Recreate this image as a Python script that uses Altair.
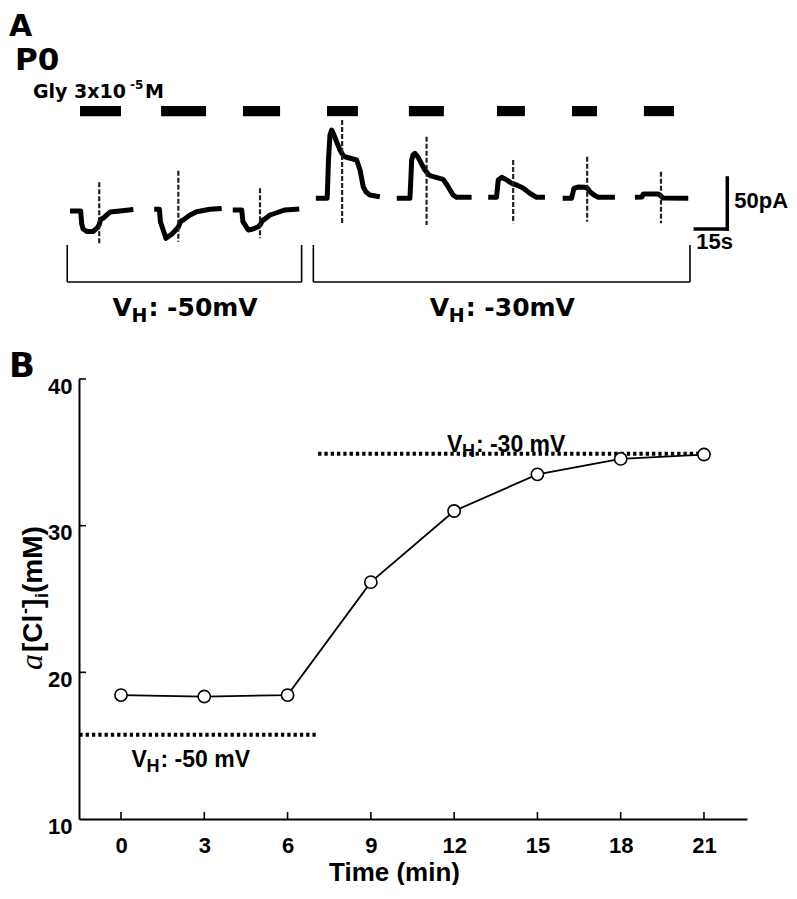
import altair as alt
import pandas as pd

# ---------------- Panel B: intracellular Cl- activity vs time ----------------
time_min = [0, 3, 6, 9, 12, 15, 18, 21]
cl_mM = [18.45, 18.35, 18.45, 26.15, 31.0, 33.5, 34.55, 34.85]
x_ticks = [0, 3, 6, 9, 12, 15, 18, 21]
y_ticks = [10, 20, 30, 40]
ref_levels = [15.75, 34.9]          # predicted levels at VH -50 / -30 mV
ref_start = [-1.5, 7.1]
ref_end = [7.05, 21.0]

# ---------------- Panel A: glycine-induced currents ----------------
gly_on = [4.7, 42.7, 81.1, 120.5, 158.9, 200.2, 235.4, 269.1]       # s
gly_off = [23.9, 63.8, 98.5, 135.0, 175.3, 213.3, 247.1, 283.2]     # s

T1_t = [0, 5.0, 5.5, 6.1, 8.0, 10.8, 12.7, 13.6, 14.5, 15.6, 17.8, 18.8, 23.4, 29.7]
T1_i = [0, 0, -12.7, -17.6, -20.1, -20.1, -16.7, -13.7, -7.8, -6.9, -2.9, -1.0, 0, 1.5]
T2_t = [39.5, 41.9, 42.4, 45.0, 47.8, 50.0, 50.8, 52.0, 53.1, 56.3, 59.4, 65.6, 71.1]
T2_i = [1.7, 1.7, -10.5, -26.8, -22.5, -17.6, -15.7, -9.8, -8.8, -3.9, -0.7, 1.7, 2.5]
T3_t = [76.3, 80.5, 81.1, 83.6, 85.8, 88.3, 89.1, 90.5, 91.4, 93.8, 96.9, 100.8, 107.5]
T3_i = [1.0, 1.0, -10.5, -18.6, -17.6, -15.4, -13.7, -8.8, -7.8, -3.9, -1.7, 1.0, 2.0]
T4_t = [115.3, 120.6, 121.2, 121.9, 122.7, 123.8, 124.7, 126.6, 127.4, 128.0, 128.9,
        134.4, 136.0, 137.5, 138.8, 140.6, 145.3]
T4_i = [12.5, 12.5, 50.0, 74.5, 79.4, 74.5, 69.6, 59.8, 56.9, 54.9, 53.2,
        50.0, 40.2, 23.8, 18.6, 15.7, 14.0]
T5_t = [153.2, 159.4, 159.9, 160.2, 160.8, 161.7, 163.2, 164.6, 166.4, 167.2, 168.3,
        169.6, 175.0, 176.8, 178.2, 179.6, 181.3, 188.3]
T5_i = [12.5, 12.5, 35.3, 50.0, 54.9, 56.6, 52.9, 47.1, 40.2, 38.2, 35.3,
        34.3, 31.1, 25.5, 20.6, 15.7, 13.4, 13.4]
T6_t = [196.1, 200.0, 200.8, 202.4, 204.4, 207.1, 207.8, 209.4, 212.4, 215.6, 218.8, 222.7]
T6_i = [13.4, 13.4, 30.4, 33.0, 30.9, 27.2, 26.5, 25.5, 22.5, 17.4, 13.4, 13.4]
T7_t = [231.0, 235.2, 236.3, 238.2, 241.4, 242.5, 243.8, 245.7, 247.7, 255.5]
T7_i = [12.5, 12.5, 22.3, 23.5, 23.2, 22.5, 18.9, 15.7, 13.4, 13.4]
T8_t = [264.9, 268.2, 268.8, 275.8, 277.1, 278.0, 289.9]
T8_i = [13.4, 13.7, 16.7, 16.7, 14.7, 12.7, 12.5]
sweep_t = [T1_t, T2_t, T3_t, T4_t, T5_t, T6_t, T7_t, T8_t]
sweep_i = [T1_i, T2_i, T3_i, T4_i, T5_i, T6_i, T7_i, T8_i]

artifact_t = [13.7, 50.8, 89.1, 127.6, 167.2, 207.8, 242.5, 277.1]
artifact_top = [28.1, 39.5, 22.3, 89.2, 72.8, 50.0, 53.2, 38.5]
artifact_bot = [-31.7, -30.1, -26.8, -12.1, -13.7, -12.1, -10.5, -12.1]

bracket_start = [-1.3, 114.1]
bracket_end = [108.6, 290.7]
bracket_top = -33.3
bracket_bottom = -69.6
bracket_label = [": -50mV", ": -30mV"]
label_level = -95.1

scale_t = 308.2        # scale bar corner (s)
scale_i = -17.6        # scale bar corner (pA)
scale_pa = 50
scale_s = 15

# ---------------- fonts ----------------
SANS = "Liberation Sans, Arial, Helvetica, sans-serif"
WIDE = "DejaVu Sans, Verdana, sans-serif"
SERIF = "Liberation Serif, Times New Roman, serif"

# ---------------- tables ----------------
trace_rows = []
for k, (ts, vs) in enumerate(zip(sweep_t, sweep_i)):
    for j, (t, v) in enumerate(zip(ts, vs)):
        trace_rows.append({"sweep": k, "order": j, "t": t, "i": v})
traces = pd.DataFrame(trace_rows)
artifacts = pd.DataFrame({"t": artifact_t, "top": artifact_top, "bot": artifact_bot})
bars = pd.DataFrame({"on": gly_on, "off": gly_off})

segs = []
for s, e in zip(bracket_start, bracket_end):
    segs.append({"x": s, "x2": e, "y": bracket_bottom, "y2": bracket_bottom, "w": "thin"})
    segs.append({"x": s, "x2": s, "y": bracket_top, "y2": bracket_bottom, "w": "thin"})
    segs.append({"x": e, "x2": e, "y": bracket_top, "y2": bracket_bottom, "w": "thin"})
segs.append({"x": scale_t, "x2": scale_t, "y": scale_i, "y2": scale_i + scale_pa, "w": "thick"})
segs.append({"x": scale_t - scale_s, "x2": scale_t, "y": scale_i, "y2": scale_i, "w": "thick"})
segments = pd.DataFrame(segs)

blabels = pd.DataFrame({
    "t": [(s + e) / 2 for s, e in zip(bracket_start, bracket_end)],
    "i": [label_level] * 2,
    "rest": bracket_label,
})
sblabels = pd.DataFrame({
    "t": [scale_t, scale_t - scale_s],
    "i": [scale_i + scale_pa / 2, scale_i],
    "txt": [f"{scale_pa}pA", f"{scale_s}s"],
})

XA = alt.Scale(domain=[4.22, 317.44], nice=False, zero=False)
YA = alt.Scale(domain=[-596.1, -164.7], nice=False, zero=False)

tr = alt.Chart(traces).mark_line(color="black", strokeWidth=5, strokeJoin="round").encode(
    x=alt.X("t:Q", scale=XA, axis=None),
    y=alt.Y("i:Q", scale=YA, axis=None),
    detail="sweep:N",
    order="order:Q",
)
art = alt.Chart(artifacts).mark_rule(color="#222", strokeWidth=2.2, strokeDash=[5, 2]).encode(
    x=alt.X("t:Q", scale=XA, axis=None),
    y=alt.Y("top:Q", scale=YA, axis=None),
    y2="bot:Q",
)
gly = alt.Chart(bars).mark_rect(color="black").encode(
    x=alt.X("on:Q", scale=XA, axis=None),
    x2="off:Q",
    y=alt.Y(datum=103, scale=YA, axis=None),
    y2=alt.Y2(datum=93),
)
seg_thin = alt.Chart(segments).transform_filter(alt.datum.w == "thin").mark_rule(
    color="black", strokeWidth=1.6).encode(
    x=alt.X("x:Q", scale=XA, axis=None), x2="x2:Q",
    y=alt.Y("y:Q", scale=YA, axis=None), y2="y2:Q",
)
seg_thick = alt.Chart(segments).transform_filter(alt.datum.w == "thick").mark_rule(
    color="black", strokeWidth=3.5, strokeCap="square").encode(
    x=alt.X("x:Q", scale=XA, axis=None), x2="x2:Q",
    y=alt.Y("y:Q", scale=YA, axis=None), y2="y2:Q",
)
base_bl = alt.Chart(blabels).encode(
    x=alt.X("t:Q", scale=XA, axis=None), y=alt.Y("i:Q", scale=YA, axis=None))
bl_v = base_bl.mark_text(text="V", font=WIDE, fontSize=25, fontWeight="bold",
                         align="left", dx=-72)
bl_h = base_bl.mark_text(text="H", font=WIDE, fontSize=19, fontWeight="bold",
                         align="left", dx=-53, dy=8)
bl_r = base_bl.mark_text(font=WIDE, fontSize=25, fontWeight="bold",
                         align="left", dx=-36).encode(text="rest:N")
sl = alt.Chart(sblabels).transform_filter(alt.datum.txt == f"{scale_pa}pA").mark_text(
    font=SANS, fontSize=22, fontWeight="bold", align="left", baseline="middle", dx=7, dy=-2).encode(
    x=alt.X("t:Q", scale=XA, axis=None), y=alt.Y("i:Q", scale=YA, axis=None), text="txt:N")
sl2 = alt.Chart(sblabels).transform_filter(alt.datum.txt == f"{scale_s}s").mark_text(
    font=SANS, fontSize=22, fontWeight="bold", align="left", baseline="top", dx=1, dy=3).encode(
    x=alt.X("t:Q", scale=XA, axis=None), y=alt.Y("i:Q", scale=YA, axis=None), text="txt:N")

panelA = alt.layer(gly, tr, art, seg_thin, seg_thick, bl_v, bl_h, bl_r, sl, sl2)

# ---------------- Panel B layers ----------------
dfB = pd.DataFrame({"time": time_min, "cl": cl_mM})
refs = pd.DataFrame({"x": ref_start, "x2": ref_end, "y": ref_levels})
xt = pd.DataFrame({"v": x_ticks})
yt = pd.DataFrame({"v": y_ticks[1:]})

XB = alt.Scale(domain=[-1.513, 22.55], nice=False, zero=False)
YB = alt.Scale(domain=[10, 40], nice=False, zero=False)

axX = alt.Axis(values=x_ticks, ticks=False, grid=False, domainColor="black", domainWidth=2,
               labelFont=SANS, labelFontSize=22, labelFontWeight="bold", labelColor="black",
               labelPadding=16, title="Time (min)", titleFont=SANS, titleFontSize=26,
               titleFontWeight="bold", titleColor="black", titleX=315, titleY=61,
               titleBaseline="alphabetic", titleAlign="center")
axY = alt.Axis(values=y_ticks, ticks=False, grid=False, domainColor="black", domainWidth=2,
               labelFont=SANS, labelFontSize=22, labelFontWeight="bold", labelColor="black",
               labelPadding=7, labelBaseline="top", labelOffset=-3, title=None)

lineB = alt.Chart(dfB).mark_line(color="black", strokeWidth=1.8).encode(
    x=alt.X("time:Q", scale=XB, axis=axX),
    y=alt.Y("cl:Q", scale=YB, axis=axY),
)
ptsB = alt.Chart(dfB).mark_point(shape="circle", size=150, filled=True, fill="white",
                                 stroke="black", strokeWidth=1.6, opacity=1).encode(
    x=alt.X("time:Q", scale=XB), y=alt.Y("cl:Q", scale=YB))
refB = alt.Chart(refs).mark_rule(color="black", strokeWidth=4, strokeDash=[3.3, 3]).encode(
    x=alt.X("x:Q", scale=XB), x2="x2:Q", y=alt.Y("y:Q", scale=YB))
xtick = alt.Chart(xt).mark_rule(color="black", strokeWidth=1.6).encode(
    x=alt.X("v:Q", scale=XB), y=alt.Y(datum=10, scale=YB), y2=alt.Y2(datum=10.48))
ytick = alt.Chart(yt).mark_rule(color="black", strokeWidth=1.6).encode(
    y=alt.Y("v:Q", scale=YB), x=alt.X(datum=-1.513, scale=XB), x2=alt.X2(datum=-1.26))

vh_lab = pd.DataFrame({"time": [0.38, 11.74], "cl": [14.02, 35.5], "rest": [": -50 mV", ": -30 mV"]})
base_vh = alt.Chart(vh_lab).encode(x=alt.X("time:Q", scale=XB), y=alt.Y("cl:Q", scale=YB))
vh_v = base_vh.mark_text(text="V", font=SANS, fontSize=23, fontWeight="bold", align="left")
vh_h = base_vh.mark_text(text="H", font=SANS, fontSize=18, fontWeight="bold", align="left", dx=15, dy=7)
vh_r = base_vh.mark_text(font=SANS, fontSize=23, fontWeight="bold", align="left", dx=29).encode(text="rest:N")

# rotated y-axis title  a[Cl-]i (mM)
ytitle_parts = [("a", SERIF, 32, "normal", "italic", 0, 0),
                ("[Cl", SANS, 28, "bold", "normal", 18, 0),
                ("-", SANS, 18, "bold", "normal", 56, -11),
                ("]", SANS, 28, "bold", "normal", 62, 0),
                ("i", SANS, 18, "bold", "normal", 72, 6),
                (" (mM)", SANS, 28, "bold", "normal", 77, 0)]
yt_layers = []
for txt, fnt, fs, fw, fst, dx, dy in ytitle_parts:
    yt_layers.append(alt.Chart(pd.DataFrame({"a": [0]})).mark_text(
        text=txt, font=fnt, fontSize=fs, fontWeight=fw, fontStyle=fst, angle=270,
        align="left", baseline="alphabetic", dx=dx, dy=dy, color="black").encode(
        x=alt.value(-37), y=alt.value(291)))

# panel letters and headings (layout annotations)
def label(txt, x, y, fs, font=WIDE):
    return alt.Chart(pd.DataFrame({"a": [0]})).mark_text(
        text=txt, font=font, fontSize=fs, fontWeight="bold", align="left",
        baseline="alphabetic", color="black").encode(x=alt.value(x), y=alt.value(y))

heads = [label("A", -70, -343, 30), label("P0", -64, -309, 31),
         label("Gly 3x10", -46, -281, 19), label("-5", 51, -290, 12),
         label("M", 66, -281, 19), label("B", -70, -2, 34)]

panelB = alt.layer(refB, lineB, ptsB, xtick, ytick, vh_v, vh_h, vh_r, *yt_layers, *heads)

chart = alt.layer(panelA, panelB).resolve_scale(x="independent", y="independent").properties(
    width=668, height=440,
    autosize=alt.AutoSizeParams(type="none"),
    padding={"left": 71, "top": 371, "right": 42, "bottom": 66},
).configure_view(stroke=None).configure_axis(grid=False)

chart.save("out.html", embed_options={"renderer": "svg", "actions": False})
